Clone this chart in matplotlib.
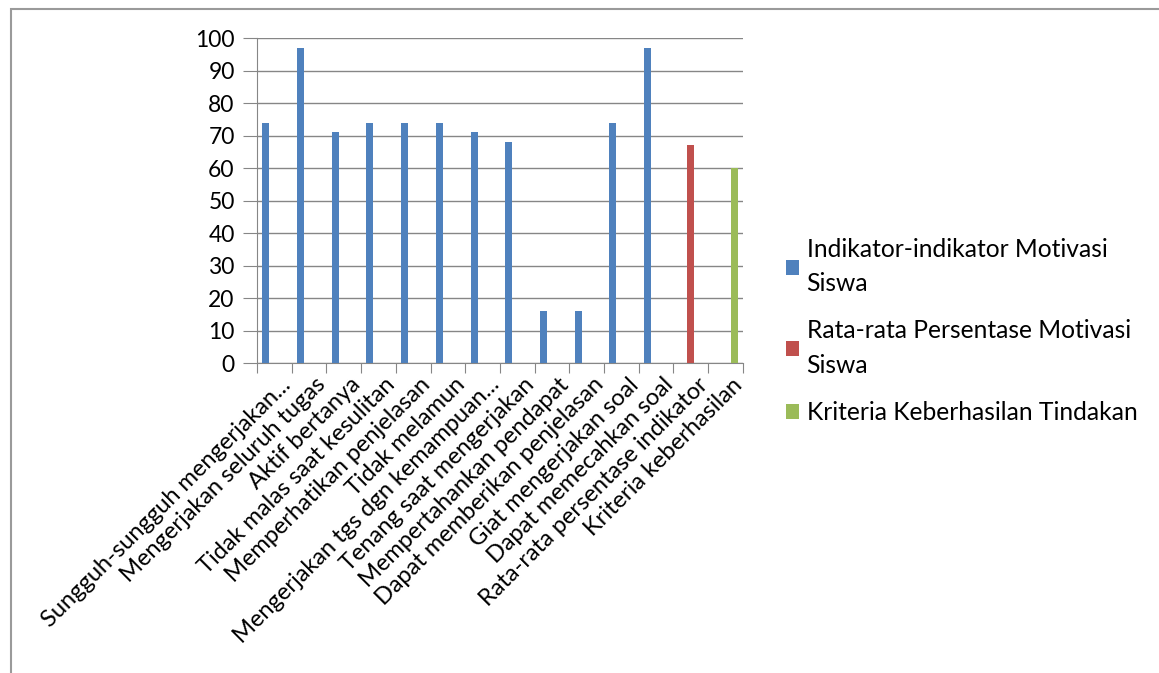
import matplotlib.pyplot as plt
import matplotlib.transforms as mtransforms
import numpy as np
from matplotlib.patches import Rectangle

# categories and values
categories = [
    "Sungguh-sungguh mengerjakan...",
    "Mengerjakan seluruh tugas",
    "Aktif bertanya",
    "Tidak malas saat kesulitan",
    "Memperhatikan penjelasan",
    "Tidak melamun",
    "Mengerjakan tgs dgn kemampuan...",
    "Tenang saat mengerjakan",
    "Mempertahankan pendapat",
    "Dapat memberikan penjelasan",
    "Giat mengerjakan soal",
    "Dapat memecahkan soal",
    "Rata-rata persentase indikator",
    "Kriteria keberhasilan",
]
indikator = [74, 97, 71, 74, 74, 74, 71, 68, 16, 16, 74, 97, 0, 0]
rata_rata = [0, 0, 0, 0, 0, 0, 0, 0, 0, 0, 0, 0, 67, 0]
kriteria = [0, 0, 0, 0, 0, 0, 0, 0, 0, 0, 0, 0, 0, 60]
series_names = ["Indikator-indikator Motivasi\nSiswa",
                "Rata-rata Persentase Motivasi\nSiswa",
                "Kriteria Keberhasilan Tindakan"]
yticks = list(range(0, 101, 10))

plt.rcParams['font.family'] = ['Lato', 'DejaVu Sans']

fig = plt.figure(figsize=(11.59, 6.73), dpi=100)
ax = fig.add_axes([0.2217, 0.4606, 0.4193, 0.4829])

# frame around the whole picture (right and bottom edges are cut off)
fig.patches.append(Rectangle((11 / 1159, -0.2), 1.5, 1.2 - 8.5 / 673, transform=fig.transFigure,
                             fill=False, edgecolor='#9a9a9a', linewidth=1.5))

x = np.arange(len(categories))
w = 0.2
off = 0.245
colors = ['#4F81BD', '#C0504D', '#9BBB59']
for i, (vals, name) in enumerate(zip([indikator, rata_rata, kriteria], series_names)):
    ax.bar(x + (i - 1) * off, vals, width=w, color=colors[i], label=name, zorder=3)

ax.set_xlim(-0.5, len(categories) - 0.5)
ax.set_ylim(0, 100)
ax.set_yticks(yticks)
ax.yaxis.grid(True, color='#868686', linewidth=1.0, zorder=0)
for s in ['top', 'right']:
    ax.spines[s].set_visible(False)
ax.spines['left'].set_color('#868686')
ax.spines['bottom'].set_color('#868686')
ax.tick_params(axis='y', length=10, color='#868686', labelsize=16.5, pad=6)
ax.set_xticks(np.arange(len(categories) + 1) - 0.5, minor=False)
ax.set_xticklabels([])
ax.tick_params(axis='x', length=7, color='#868686')
ax.set_xticks(x, minor=True)
ax.tick_params(axis='x', which='minor', length=0)
ax.set_xticklabels(categories, minor=True, rotation=45, ha='right', va='top',
                   rotation_mode='anchor', fontsize=17)
ax.tick_params(axis='x', which='minor', pad=5)
shift = mtransforms.ScaledTranslation(6 / 100, -4 / 100, fig.dpi_scale_trans)
for lab in ax.get_xticklabels(minor=True):
    lab.set_transform(lab.get_transform() + shift)

leg = ax.legend(loc='upper left', bbox_to_anchor=(1.088, 0.385), frameon=False, fontsize=17.7,
                borderpad=0, borderaxespad=0,
                handlelength=0.55, handleheight=0.55, handletextpad=0.3, labelspacing=0.98)
for t in leg.get_texts():
    t.set_linespacing(1.6)

fig.savefig('out.png', dpi=100)
